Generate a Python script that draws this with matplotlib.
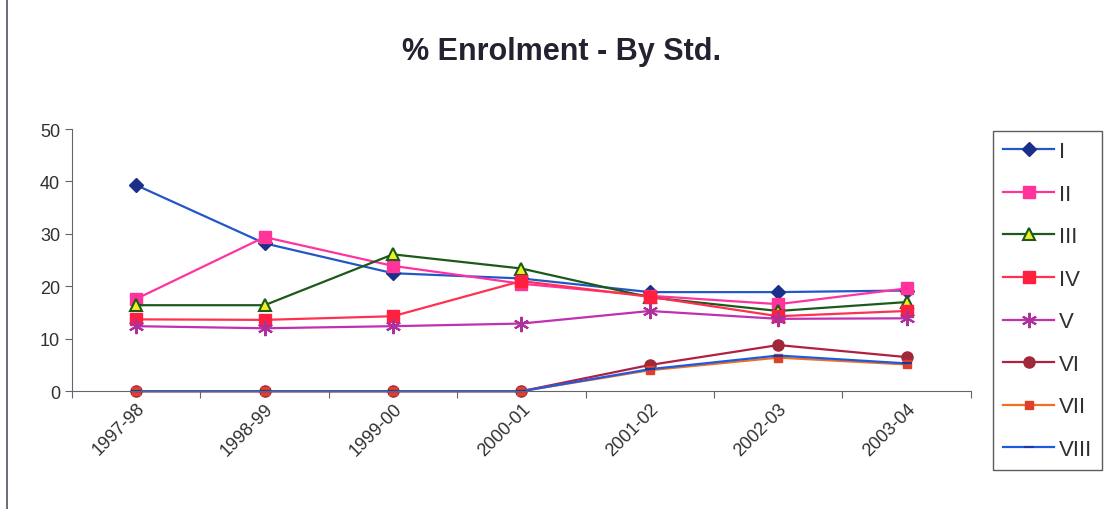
import matplotlib.pyplot as plt
from matplotlib.lines import Line2D

plt.rcParams['font.family'] = ['Liberation Sans', 'DejaVu Sans']

years = ['1997-98', '1998-99', '1999-00', '2000-01', '2001-02', '2002-03', '2003-04']
std_i = [39.3, 28.2, 22.5, 21.5, 18.9, 18.9, 19.2]
std_ii = [17.6, 29.4, 23.9, 20.5, 18.2, 16.6, 19.6]
std_iii = [16.4, 16.4, 26.1, 23.4, 17.9, 15.3, 17.0]
std_iv = [13.7, 13.6, 14.3, 21.0, 18.0, 14.3, 15.3]
std_v = [12.4, 12.0, 12.4, 12.9, 15.3, 13.8, 13.9]
std_vi = [0, 0, 0, 0, 5.0, 8.8, 6.5]
std_vii = [0, 0, 0, 0, 4.0, 6.4, 5.1]
std_viii = [0, 0, 0, 0, 4.2, 6.8, 5.3]

fig = plt.figure(figsize=(11.07, 5.10), dpi=100)
ax = fig.add_axes([0.065, 0.231, 0.812, 0.514])
# left edge of the chart frame
fig.lines.append(Line2D([0.006, 0.006], [0, 1], transform=fig.transFigure,
                        color='#555060', linewidth=1.2))

x = list(range(len(years)))
# (values, label, line colour, marker, face, edge, size)
series = [
    (std_i, 'I', '#2456c8', 'D', '#1a2f8a', '#1a2f8a', 7),
    (std_ii, 'II', '#ff33a0', 's', '#ff3399', '#ff3399', 8),
    (std_iii, 'III', '#1c5a1c', '^', '#f0f020', '#1c5a1c', 9),
    (std_iv, 'IV', '#ff3050', 's', '#ff2040', '#ff2040', 9),
    (std_v, 'V', '#c030b0', (6, 2, 0), '#b0309a', '#b0309a', 11),
    (std_vi, 'VI', '#b02040', 'o', '#a02838', '#a02838', 8),
    (std_vii, 'VII', '#f07020', 's', '#e0402a', '#e0402a', 6),
    (std_viii, 'VIII', '#1e5ae0', '_', '#1a3aa0', '#1a3aa0', 7),
]
for vals, lab, col, mk, fc, ec, ms in series:
    kw = dict(markeredgewidth=1.5) if mk in ('_', (6, 2, 0), '^') else {}
    ax.plot(x, vals, color=col, linewidth=1.6, marker=mk, markerfacecolor=fc,
            markeredgecolor=ec, markersize=ms, label=lab, clip_on=False, **kw)

ax.set_xlim(-0.5, len(years) - 0.5)
ax.set_ylim(0, 50)
ax.set_yticks(range(0, 51, 10))
ax.set_xticks([i + 0.5 for i in range(len(years) - 1)] + [-0.5, len(years) - 0.5])
ax.set_xticklabels([])
ax.set_xticks(x, minor=True)
ax.set_xticklabels(years, minor=True, rotation=45, ha='right', va='top',
                   rotation_mode='anchor', fontsize=13, color='#303030')
ax.tick_params(axis='x', which='minor', length=0, pad=6)
ax.tick_params(axis='x', which='major', direction='out', length=5, color='#6a6070')
ax.tick_params(axis='y', direction='out', length=5, color='#6a6070', labelsize=13,
               labelcolor='#303030')
for s in ('top', 'right'):
    ax.spines[s].set_visible(False)
for s in ('left', 'bottom'):
    ax.spines[s].set_color('#6a6070')

fig.text(0.507, 0.898, '% Enrolment - By Std.', ha='center', va='center',
         fontsize=22, fontweight='bold', color='#222230')

leg = fig.legend(loc='upper left', bbox_to_anchor=(0.897, 0.741), fontsize=16,
                 frameon=True, fancybox=False, edgecolor='#333333',
                 labelspacing=0.97, handlelength=2.3, handletextpad=0.2,
                 borderpad=0.45, borderaxespad=0)
leg.get_frame().set_linewidth(1.0)
for t in leg.get_texts():
    t.set_color('#303030')

fig.savefig('out.png', dpi=100)
